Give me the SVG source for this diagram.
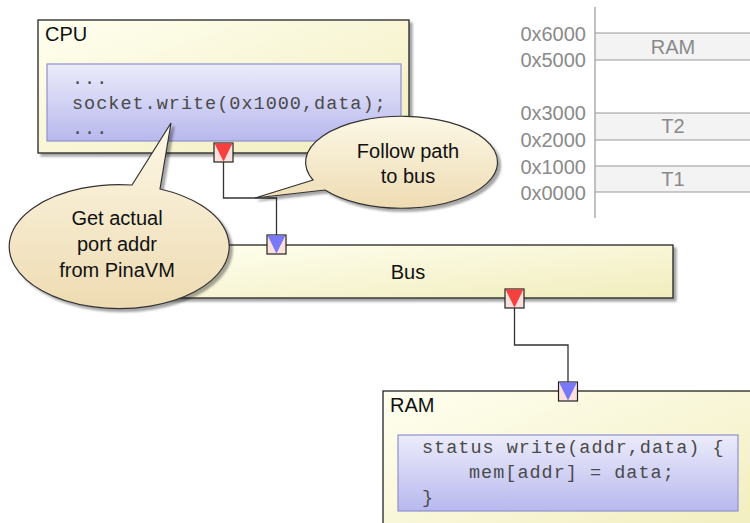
<svg xmlns="http://www.w3.org/2000/svg" width="750" height="523" viewBox="0 0 750 523">
<defs>
<linearGradient id="gYel" x1="0" y1="0" x2="1" y2="1">
<stop offset="0" stop-color="#fffff0"/>
<stop offset="1" stop-color="#f1edbd"/>
</linearGradient>
<linearGradient id="gCode" x1="0" y1="0" x2="0" y2="1">
<stop offset="0" stop-color="#ececfb"/>
<stop offset="1" stop-color="#b8b8ee"/>
</linearGradient>
<linearGradient id="gBub" x1="0" y1="0" x2="0" y2="1">
<stop offset="0" stop-color="#fcf8e6"/>
<stop offset="1" stop-color="#eedbb2"/>
</linearGradient>
<filter id="sh" x="-10%" y="-10%" width="120%" height="130%">
<feDropShadow dx="3" dy="3" stdDeviation="1.2" flood-color="#000" flood-opacity="0.35"/>
</filter>
<style>
.box{fill:url(#gYel);stroke:#222;stroke-width:1.3;filter:url(#sh)}
.code{fill:url(#gCode);stroke:#8f8fd0;stroke-width:1.2}
.lbl{font-family:"Liberation Sans",Arial,sans-serif;font-size:20px;fill:#111}
.mono{font-family:"Liberation Mono","Courier New",monospace;font-size:18.5px;letter-spacing:1px;fill:#4a4a4a}
.wire{fill:none;stroke:#333;stroke-width:1.3}
.psq{fill:#fbe0dc;stroke:#222;stroke-width:1.2}
.pout{fill:#f63f3f}
.pin{fill:#7878f8}
.bub{fill:url(#gBub);stroke:#333;stroke-width:1.2;filter:url(#sh)}
.btxt{font-family:"Liberation Sans",Arial,sans-serif;font-size:20px;fill:#111;text-anchor:middle}
.mm{stroke:#999;stroke-width:1.2}
.band{fill:#f3f3f3}
.mtxt{font-family:"Liberation Sans",Arial,sans-serif;font-size:20px;fill:#8a8a8a}
</style>
</defs>

<g id="memmap">
<rect class="band" x="595" y="33" width="155" height="27"/>
<rect class="band" x="595" y="113" width="155" height="27"/>
<rect class="band" x="595" y="166" width="155" height="26"/>
<line class="mm" x1="595" y1="7" x2="595" y2="218"/>
<line class="mm" x1="595" y1="33" x2="750" y2="33"/>
<line class="mm" x1="595" y1="60" x2="750" y2="60"/>
<line class="mm" x1="595" y1="113" x2="750" y2="113"/>
<line class="mm" x1="595" y1="140" x2="750" y2="140"/>
<line class="mm" x1="595" y1="166" x2="750" y2="166"/>
<line class="mm" x1="595" y1="192" x2="750" y2="192"/>
<g class="mtxt" text-anchor="end">
<text x="586" y="40.5">0x6000</text>
<text x="586" y="67">0x5000</text>
<text x="586" y="120">0x3000</text>
<text x="586" y="147">0x2000</text>
<text x="586" y="173.5">0x1000</text>
<text x="586" y="200">0x0000</text>
</g>
<g class="mtxt" text-anchor="middle">
<text x="673" y="54">RAM</text>
<text x="673" y="133">T2</text>
<text x="673" y="186">T1</text>
</g>
</g>

<g id="cpu">
<rect class="box" x="38" y="20" width="371" height="133"/>
<text class="lbl" x="45" y="41">CPU</text>
<rect class="code" x="47" y="64" width="354" height="77"/>
<text class="mono" x="72" y="84">...</text>
<text class="mono" x="72" y="109">socket.write(0x1000,data);</text>
<text class="mono" x="72" y="134">...</text>
</g>

<g id="bus">
<rect class="box" x="155" y="245" width="518" height="53"/>
<text class="lbl" x="408" y="279" text-anchor="middle">Bus</text>
</g>

<g id="ram">
<rect class="box" x="383" y="391" width="380" height="150"/>
<text class="lbl" x="390" y="412">RAM</text>
<rect class="code" x="398" y="435" width="340" height="76"/>
<text class="mono" x="422" y="453">status write(addr,data) {</text>
<text class="mono" x="469" y="478">mem[addr] = data;</text>
<text class="mono" x="422" y="503">}</text>
</g>

<g id="connectors">
<polyline class="wire" points="223.5,162 223.5,198 276.5,198 276.5,235"/>
<polyline class="wire" points="514.5,308 514.5,345 568,345 568,382"/>
</g>

<g id="ports">
<g id="cpu-out">
<rect class="psq" x="214" y="143" width="19" height="19"/>
<polygon class="pout" points="214.6,143.6 232.4,143.6 223.5,161.4"/>
</g>
<g id="bus-in">
<rect class="psq" x="267" y="235" width="19" height="19"/>
<polygon class="pin" points="267.6,235.6 285.4,235.6 276.5,253.4"/>
</g>
<g id="bus-out">
<rect class="psq" x="505" y="289" width="19" height="19"/>
<polygon class="pout" points="505.6,289.6 523.4,289.6 514.5,307.4"/>
</g>
<g id="ram-in">
<rect class="psq" x="558.5" y="382" width="19" height="19"/>
<polygon class="pin" points="559.1,382.6 576.9,382.6 568,400.4"/>
</g>
</g>

<g id="bubble-follow">
<path class="bub" d="M 325,190 L 255,198 L 313,180 A 96 46 0 1 1 325,190 Z"/>
<text class="btxt" x="408" y="158">Follow path</text>
<text class="btxt" x="408" y="183">to bus</text>
</g>

<g id="bubble-get">
<path class="bub" d="M 132,185 L 171,123 L 160,189 A 110 62 0 1 1 132,185 Z"/>
<text class="btxt" x="117" y="225">Get actual</text>
<text class="btxt" x="117" y="251">port addr</text>
<text class="btxt" x="117" y="277">from PinaVM</text>
</g>
</svg>
